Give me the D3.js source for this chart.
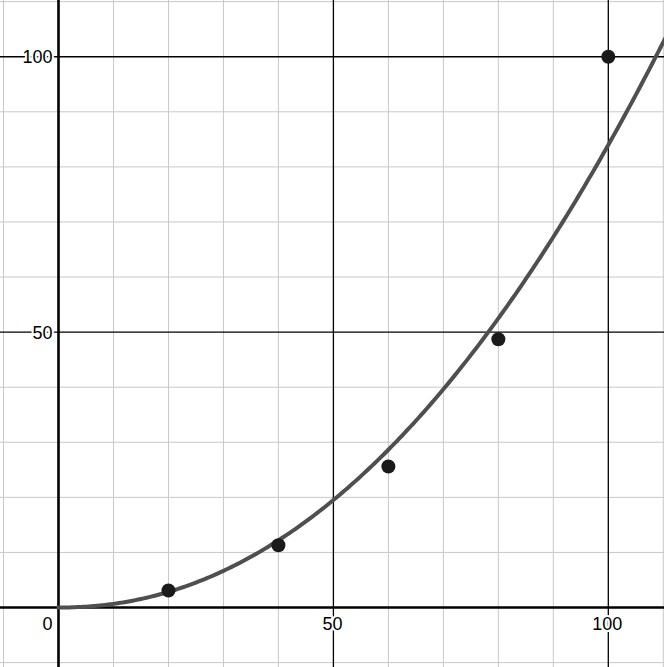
<!DOCTYPE html>
<html>
<head>
<meta charset="utf-8">
<script src="https://cdn.jsdelivr.net/npm/d3@7"></script>
<style>
  html, body { margin: 0; padding: 0; background: #fff; }
  svg { display: block; }
  .lbl { font-family: 'Liberation Sans', Arial, sans-serif; font-size: 18px; fill: #000;
         paint-order: stroke; stroke: #fff; stroke-width: 4px; stroke-linejoin: round; }
</style>
</head>
<body>
<div id="chart"></div>
<script>
'use strict';

// data points
const xs = [20, 40, 60, 80, 100];
const ys = [3.1, 11.3, 25.6, 48.7, 100];

const xTicks = [50, 100];
const yTicks = [50, 100];
const gridStep = 10;

const width = 664,
      height = 667;

const xScale = d3.scaleLinear().domain([-10.64, 110.13]).range([0, width]);
const yScale = d3.scaleLinear().domain([-10.8, 110.3]).range([height, 0]);

const svg = d3.select('#chart')
              .append('svg')
              .attr('width', width)
              .attr('height', height);

// minor grid
const minorX = d3.range(-10, 111, gridStep).filter(v => v % 50 !== 0);
const minorY = d3.range(-10, 111, gridStep).filter(v => v % 50 !== 0);

svg.append('g')
   .selectAll('line')
   .data(minorX)
   .join('line')
   .attr('x1', d => xScale(d)).attr('x2', d => xScale(d))
   .attr('y1', 0).attr('y2', height)
   .attr('stroke', '#c8c8c8').attr('stroke-width', 1);

svg.append('g')
   .selectAll('line')
   .data(minorY)
   .join('line')
   .attr('y1', d => yScale(d)).attr('y2', d => yScale(d))
   .attr('x1', 0).attr('x2', width)
   .attr('stroke', '#c8c8c8').attr('stroke-width', 1);

// major grid
svg.append('g')
   .selectAll('line')
   .data(xTicks)
   .join('line')
   .attr('x1', d => xScale(d)).attr('x2', d => xScale(d))
   .attr('y1', 0).attr('y2', height)
   .attr('stroke', '#000').attr('stroke-width', 1.3);

svg.append('g')
   .selectAll('line')
   .data(yTicks)
   .join('line')
   .attr('y1', d => yScale(d)).attr('y2', d => yScale(d))
   .attr('x1', 0).attr('x2', width)
   .attr('stroke', '#000').attr('stroke-width', 1.3);

// axes
svg.append('line')
   .attr('x1', xScale(0)).attr('x2', xScale(0))
   .attr('y1', 0).attr('y2', height)
   .attr('stroke', '#000').attr('stroke-width', 2.6);
svg.append('line')
   .attr('y1', yScale(0)).attr('y2', yScale(0))
   .attr('x1', 0).attr('x2', width)
   .attr('stroke', '#000').attr('stroke-width', 2.6);

// labels
svg.append('g')
   .selectAll('text')
   .data(xTicks)
   .join('text')
   .attr('class', 'lbl')
   .attr('x', d => xScale(d) - 1)
   .attr('y', yScale(0) + 22)
   .attr('text-anchor', 'middle')
   .text(d => d);

svg.append('g')
   .selectAll('text')
   .data(yTicks)
   .join('text')
   .attr('class', 'lbl')
   .attr('x', xScale(0) - 6)
   .attr('y', d => yScale(d) + 6.5)
   .attr('text-anchor', 'end')
   .text(d => d);

svg.append('text')
   .attr('class', 'lbl')
   .attr('x', xScale(0) - 6)
   .attr('y', yScale(0) + 22)
   .attr('text-anchor', 'end')
   .text('0');

// power fit y = a*x^b from log-log regression of the points
const lx = xs.map(Math.log),
      ly = ys.map(Math.log);
const mx = d3.mean(lx), my = d3.mean(ly);
const b = d3.sum(lx, (v, i) => (v - mx) * (ly[i] - my)) / d3.sum(lx, v => (v - mx) * (v - mx));
const a = Math.exp(my - b * mx);

const curveX = d3.range(0, xScale.domain()[1] + 0.5, 0.5);
const line = d3.line()
               .x(d => xScale(d))
               .y(d => yScale(a * Math.pow(d, b)));

svg.append('path')
   .datum(curveX)
   .attr('d', line)
   .attr('fill', 'none')
   .attr('stroke', '#4f4f4f')
   .attr('stroke-width', 4)
   .attr('stroke-linecap', 'round');

// points
svg.append('g')
   .selectAll('circle')
   .data(xs)
   .join('circle')
   .attr('cx', d => xScale(d))
   .attr('cy', (d, i) => yScale(ys[i]))
   .attr('r', 7)
   .attr('fill', '#1a1a1a');
</script>
</body>
</html>
